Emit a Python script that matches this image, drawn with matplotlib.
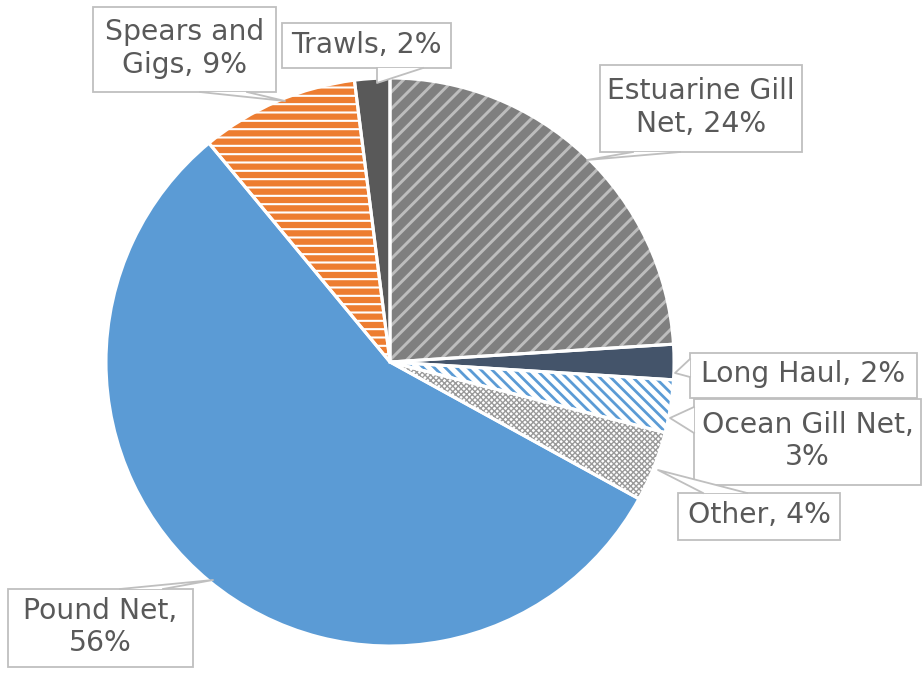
import matplotlib
matplotlib.use("Agg")
import matplotlib.pyplot as plt
from matplotlib.patches import Rectangle, Polygon
from matplotlib.lines import Line2D

# Share of landings by gear type (percent)
gears = ["Estuarine Gill Net", "Long Haul", "Ocean Gill Net", "Other",
         "Pound Net", "Spears and Gigs", "Trawls"]
shares = [24, 2, 3, 4, 56, 9, 2]
label_texts = ["Estuarine Gill\nNet, 24%", "Long Haul, 2%", "Ocean Gill Net,\n3%",
               "Other, 4%", "Pound Net,\n56%", "Spears and\nGigs, 9%", "Trawls, 2%"]

# Fill style per gear: face colour, hatch, hatch colour, hatch width
styles = [
    ("#7F7F7F", "//", "#BDBDBD", 2.1),
    ("#44546A", None, "#44546A", 1.0),
    ("#FFFFFF", "\\\\\\", "#5B9BD5", 2.0),
    ("#FFFFFF", "xxxxxx", "#9A9A9A", 1.0),
    ("#5B9BD5", None, "#5B9BD5", 1.0),
    ("#ED7D31", "--", "#FFFFFF", 1.5),
    ("#595959", None, "#595959", 1.0),
]

W, H = 922, 676
fig = plt.figure(figsize=(W / 100, H / 100), dpi=100)
ax = fig.add_axes([0, 0, 1, 1])

cx, cy, r = 390, H - 362, 284

wedges, _ = ax.pie(shares, startangle=90, counterclock=False,
                   center=(cx, cy), radius=r,
                   wedgeprops=dict(linewidth=0))
for w, (fc, hatch, hc, hlw) in zip(wedges, styles):
    w.set_facecolor(fc)
    w.set_edgecolor(hc)
    w.set_linewidth(0)
    if hatch:
        w.set_hatch(hatch)
        if hasattr(w, "set_hatch_linewidth"):
            w.set_hatch_linewidth(hlw)
plt.rcParams["hatch.linewidth"] = 1.8

# White separators between slices
outline, _ = ax.pie(shares, startangle=90, counterclock=False,
                    center=(cx, cy), radius=r,
                    wedgeprops=dict(facecolor="none", edgecolor="white",
                                    linewidth=2.2))

ax.set_xlim(0, W)
ax.set_ylim(0, H)
ax.set_aspect("equal")
ax.axis("off")

border = "#BFBFBF"
txt_color = "#595959"

# Callout boxes: (x0, y0, x1, y1) in top-down pixels, base points, tip
callouts = [
    ((600, 65, 802, 152), [(633, 152), (680, 152)], (587, 160)),
    ((690, 353, 917, 398), [(690, 359), (690, 377)], (675, 373)),
    ((694, 399, 921, 485), [(694, 407), (694, 433)], (670, 418)),
    ((678, 493, 840, 540), [(703, 493), (747, 493)], (658, 470)),
    ((8, 589, 193, 667), [(120, 589), (163, 589)], (213, 580)),
    ((93, 7, 276, 92), [(200, 92), (247, 92)], (285, 101)),
    ((282, 23, 451, 68), [(377, 68), (423, 68)], (377, 83)),
]

for text, (box, base, tip) in zip(label_texts, callouts):
    x0, y0, x1, y1 = box
    ax.add_patch(Rectangle((x0, H - y1), x1 - x0, y1 - y0, facecolor="white",
                           edgecolor=border, linewidth=1.3, zorder=5))
    pts = [(base[0][0], H - base[0][1]), (tip[0], H - tip[1]),
           (base[1][0], H - base[1][1])]
    ax.add_patch(Polygon(pts, closed=True, facecolor="white",
                         edgecolor="none", zorder=6))
    ax.add_line(Line2D([p[0] for p in pts], [p[1] for p in pts],
                       color=border, linewidth=1.3, zorder=7))
    ax.text((x0 + x1) / 2, H - (y0 + y1) / 2 + 1, text, ha="center", va="center",
            multialignment="center", fontsize=20.3, color=txt_color,
            family="DejaVu Sans", linespacing=1.2, zorder=8)

fig.savefig("out.png", dpi=100, facecolor="white")
